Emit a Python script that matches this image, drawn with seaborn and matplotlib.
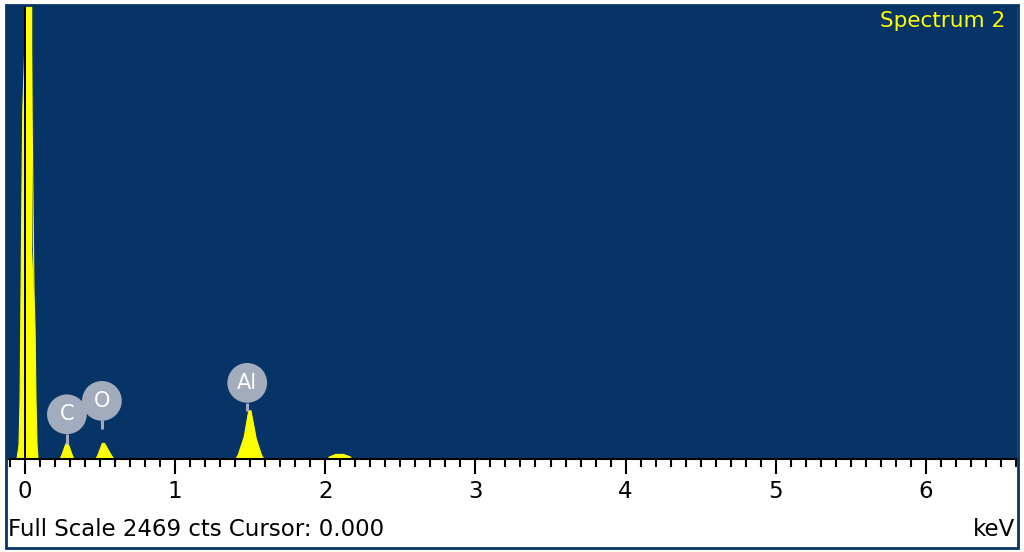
import numpy as np
import pandas as pd
import matplotlib
matplotlib.use('Agg')
import matplotlib.pyplot as plt
import seaborn as sns
from matplotlib.patches import Rectangle

# EDS spectrum outline (keV, counts)
energy_kev = [-0.12, -0.053, -0.040, -0.033, -0.027, -0.020, -0.015, 0.013, 0.030, 0.047, 0.047, 0.060, 0.067, 0.073, 0.080, 0.087,
              0.233, 0.245, 0.272, 0.288, 0.315, 0.326,
              0.472, 0.485, 0.515, 0.530, 0.575, 0.592,
              1.404, 1.420, 1.460, 1.490, 1.505, 1.540, 1.575, 1.590,
              2.016, 2.030, 2.070, 2.120, 2.165, 2.176,
              6.61]
counts = [0, 0, 76, 322, 867, 1500, 1900, 2600, 3400, 2600, 1150, 900, 703, 322, 76, 0,
          0, 20, 82, 82, 20, 0,
          0, 20, 85, 85, 20, 0,
          0, 22, 120, 262, 262, 110, 22, 0,
          0, 12, 25, 25, 12, 0,
          0]
full_scale = 2469
cursor_kev = 0.0

# element markers
peak_labels = ['C', 'O', 'Al']
label_kev = [0.279, 0.512, 1.480]
label_counts = [243, 316, 414]
stem_top = [136, 213, 305]
stem_bottom = [82, 164, 262]

major_ticks = [0, 1, 2, 3, 4, 5, 6]

bg_blue = '#073467'
label_grey = '#a3acbc'

spec_df = pd.DataFrame({'energy': energy_kev, 'counts': counts})

sns.set_style('white')
plt.rcParams['font.family'] = ['DejaVu Sans']
plt.rcParams['text.color'] = 'black'
plt.rcParams['xtick.color'] = 'black'
plt.rcParams['xtick.labelcolor'] = 'black'

fig = plt.figure(figsize=(10.24, 5.52), dpi=100)
fig.patch.set_facecolor('white')

W, H = 1024, 552
ax = fig.add_axes([7 / W, 1 - 459 / H, (1017 - 7) / W, (459 - 5) / H])
ax.set_facecolor(bg_blue)

ax.fill_between(spec_df.energy, spec_df.counts, 0, color='#ffff00', lw=0, zorder=2)
sns.lineplot(data=spec_df, x='energy', y='counts', color='#ffff00', lw=0.8, ax=ax, zorder=2, sort=False)
ax.axvline(cursor_kev, color='black', lw=1.4, zorder=4)

# element labels with stems
ax.vlines(label_kev, stem_bottom, stem_top, color=label_grey, lw=2.2, zorder=5)
ax.scatter(label_kev, label_counts, s=820, color=label_grey, edgecolor='none', zorder=6)
for name, xk, yc in zip(peak_labels, label_kev, label_counts):
    ax.text(xk, yc, name, ha='center', va='center', color='white', fontsize=15, zorder=7)

ax.set_xlim(-0.12, 6.607)
ax.set_ylim(0, full_scale)
ax.set_yticks([])
ax.set_xticks(major_ticks)
ax.set_xticks(np.arange(-0.1, 6.61, 0.1), minor=True)
ax.tick_params(axis='x', which='major', direction='out', length=11, width=1.5, color='black',
               labelsize=16.5, labelcolor='black', pad=4, bottom=True)
ax.tick_params(axis='x', which='minor', direction='out', length=6, width=1.5, color='black', bottom=True)
ax.set_xlabel('')
ax.set_ylabel('')
for side in ['top', 'left', 'right']:
    ax.spines[side].set_visible(False)
ax.spines['bottom'].set_color('black')
ax.spines['bottom'].set_linewidth(1.5)
ax.spines['bottom'].set_zorder(3)

ax.text(0.988, 0.965, 'Spectrum 2', transform=ax.transAxes, ha='right', va='center',
        color='#ffff00', fontsize=15.5)

# outer frame and status line
fig.patches.append(Rectangle((6 / W, 1 - 548 / H), (1018 - 6) / W, (548 - 5) / H,
                             transform=fig.transFigure, fill=False, edgecolor=bg_blue, lw=2))
fig.text(8 / W, 1 - 530 / H, 'Full Scale 2469 cts Cursor: 0.000', ha='left', va='center',
         fontsize=16.5, color='black')
fig.text(1015 / W, 1 - 530 / H, 'keV', ha='right', va='center', fontsize=16.5, color='black')

fig.savefig('out.png', dpi=100, facecolor='white')
